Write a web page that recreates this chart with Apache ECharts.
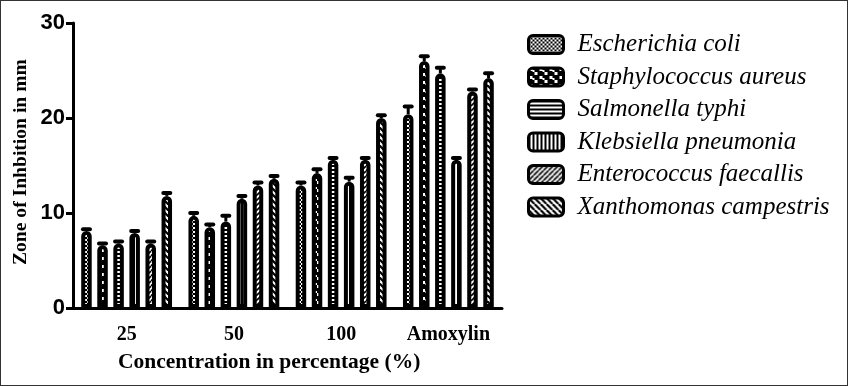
<!DOCTYPE html>
<html>
<head>
<meta charset="utf-8">
<script src="https://cdn.jsdelivr.net/npm/echarts@6/dist/echarts.min.js"></script>
<style>
html,body{margin:0;padding:0;background:#fff;}
#c{width:848px;height:386px;box-sizing:border-box;border:1px solid #333;}
</style>
</head>
<body>
<div id="c"></div>
<script>
// ---- data ----
var categories = ['25', '50', '100', 'Amoxylin'];
var seriesNames = ['Escherichia coli', 'Staphylococcus aureus', 'Salmonella typhi', 'Klebsiella pneumonia', 'Enterococcus faecallis', 'Xanthomonas campestris'];
var ecoli    = [8.1, 9.7, 12.9, 20.4];
var saureus  = [6.6, 8.5, 14.2, 26.0];
var styphi   = [6.8, 9.1, 15.6, 24.7];
var kpneu    = [7.9, 11.5, 13.3, 15.6];
var efaec    = [6.8, 12.9, 15.6, 22.8];
var xcamp    = [11.8, 13.6, 20.0, 24.2];
var ecoliErr   = [0.2, 0.3, 0.3, 0.8];
var saureusErr = [0.2, 0.3, 0.4, 0.5];
var styphiErr  = [0.2, 0.6, 0.2, 0.6];
var kpneuErr   = [0.2, 0.3, 0.4, 0.2];
var efaecErr   = [0.2, 0.3, 0.2, 0.2];
var xcampErr   = [0.3, 0.3, 0.3, 0.5];
var yTicks = [0, 10, 20, 30];

var means = [ecoli, saureus, styphi, kpneu, efaec, xcamp];
var errs = [ecoliErr, saureusErr, styphiErr, kpneuErr, efaecErr, xcampErr];

// ---- patterns ----
function tile(w, h, draw) {
  var c = document.createElement('canvas');
  c.width = w; c.height = h;
  var g = c.getContext('2d');
  draw(g, w, h);
  return { image: c, repeat: 'repeat' };
}
var patterns = [
  tile(4, 4, function (g) { g.fillStyle = '#fff'; g.fillRect(0,0,4,4); g.fillStyle = '#000'; g.fillRect(0,0,2,2); g.fillRect(2,2,2,2); }),
  tile(10, 8, function (g) { g.fillStyle = '#000'; g.fillRect(0,0,10,8); g.fillStyle = '#fff'; g.fillRect(1,0,3,3); g.fillRect(6,4,3,3); g.fillRect(4,2,2,2); }),
  tile(4, 4, function (g) { g.fillStyle = '#fff'; g.fillRect(0,0,4,4); g.fillStyle = '#000'; g.fillRect(0,0,4,2); }),
  tile(4, 4, function (g) { g.fillStyle = '#fff'; g.fillRect(0,0,4,4); g.fillStyle = '#000'; g.fillRect(0,0,2,4); }),
  tile(5, 5, function (g) { g.fillStyle = '#fff'; g.fillRect(0,0,5,5); g.strokeStyle = '#000'; g.lineWidth = 1.6;
    for (var k = -5; k <= 10; k += 5) { g.beginPath(); g.moveTo(k, 5); g.lineTo(k + 5, 0); g.stroke(); } }),
  tile(6, 6, function (g) { g.fillStyle = '#fff'; g.fillRect(0,0,6,6); g.strokeStyle = '#000'; g.lineWidth = 2.2;
    for (var k = -6; k <= 12; k += 6) { g.beginPath(); g.moveTo(k, 0); g.lineTo(k + 6, 6); g.stroke(); } })
];

var barW = 10.5, barGap = 0.53;
var pitch = barW * (1 + barGap);

var series = seriesNames.map(function (name, i) {
  return {
    name: name,
    type: 'bar',
    barWidth: barW,
    barGap: (barGap * 100) + '%',
    data: means[i],
    itemStyle: { color: patterns[i], borderColor: '#000', borderWidth: 4, borderRadius: [6, 6, 0, 0] },
    emphasis: { disabled: true }
  };
});

var errData = [];
means.forEach(function (arr, s) {
  arr.forEach(function (v, c) { errData.push([c, s, v, errs[s][c]]); });
});

series.push({
  type: 'custom',
  name: 'err',
  z: 5,
  data: errData,
  encode: { x: 0, y: 2 },
  renderItem: function (params, api) {
    var c = api.value(0), s = api.value(1), m = api.value(2), e = api.value(3);
    var b = api.coord([c, m]);
    var t = api.coord([c, m + e]);
    var x = b[0] + (s - 2.5) * pitch;
    return {
      type: 'group',
      children: [
        { type: 'line', shape: { x1: x, y1: b[1], x2: x, y2: t[1] }, style: { stroke: '#000', lineWidth: 3 } },
        { type: 'line', shape: { x1: x - 3.5, y1: t[1], x2: x + 3.5, y2: t[1] }, style: { stroke: '#000', lineWidth: 4, lineCap: 'round' } }
      ]
    };
  }
});

var chart = echarts.init(document.getElementById('c'), null, { renderer: 'canvas' });
chart.setOption({
  animation: false,
  backgroundColor: '#fff',
  grid: { left: 72, right: 345, top: 22, bottom: 77, containLabel: false, outerBoundsMode: 'none' },
  legend: {
    orient: 'vertical',
    left: 526,
    top: 31,
    padding: 0,
    itemWidth: 35,
    itemHeight: 18,
    itemGap: 7.5,
    icon: 'roundRect',
    data: seriesNames,
    itemStyle: { borderColor: '#000', borderWidth: 3 },
    textStyle: { fontFamily: 'Liberation Serif', fontStyle: 'italic', fontSize: 25, color: '#000', padding: [0, 0, 0, 9] }
  },
  xAxis: {
    type: 'category',
    data: categories,
    axisLine: { lineStyle: { color: '#000', width: 3 } },
    axisTick: { alignWithLabel: true, length: 7, lineStyle: { color: '#000', width: 3 } },
    axisLabel: { interval: 0, hideOverlap: false, color: '#000', fontFamily: 'Liberation Serif', fontWeight: 'bold', fontSize: 20, margin: 17 }
  },
  yAxis: {
    type: 'value',
    min: yTicks[0],
    max: yTicks[yTicks.length - 1],
    interval: 10,
    splitLine: { show: false },
    axisLine: { show: true, lineStyle: { color: '#000', width: 3 } },
    axisTick: { show: true, length: 7, lineStyle: { color: '#000', width: 3 } },
    axisLabel: { color: '#000', fontFamily: 'Liberation Sans', fontWeight: 'bold', fontSize: 22, margin: 8 }
  },
  graphic: [
    { type: 'text', left: 117, top: 350, style: { text: 'Concentration in percentage (%)', font: 'bold 21.5px "Liberation Serif"', fill: '#000' } },
    { type: 'text', x: 10, y: 264, rotation: Math.PI / 2, style: { text: 'Zone of Inhbition in mm', font: 'bold 19.6px "Liberation Serif"', fill: '#000', align: 'left', verticalAlign: 'top' } }
  ],
  series: series
});
</script>
</body>
</html>
